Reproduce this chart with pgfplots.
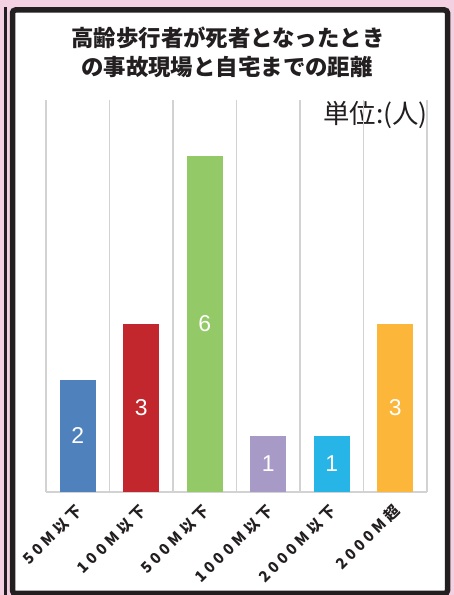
\documentclass[border=0pt]{standalone}
\usepackage{pgfplots}
\pgfplotsset{compat=1.18}
\usepackage{fontspec}
\setmainfont{Liberation Sans}
\newfontfamily\jp{Noto Sans CJK JP}
\newfontfamily\jpt[LetterSpace=25]{Noto Sans CJK JP}
\definecolor{bg}{HTML}{F4D1E2}
\definecolor{framec}{HTML}{231F20}
\definecolor{titlec}{HTML}{231F20}
\definecolor{gridc}{HTML}{D2D2D2}
\definecolor{c1}{HTML}{4F81BD}
\definecolor{c2}{HTML}{C1272D}
\definecolor{c3}{HTML}{93C966}
\definecolor{c4}{HTML}{A89AC6}
\definecolor{c5}{HTML}{27B4E7}
\definecolor{c6}{HTML}{FCB73B}
\begin{document}
\begin{tikzpicture}[x=1bp,y=1bp]
\path[use as bounding box] (0,0) rectangle (454,595);
\fill[bg] (0,0) rectangle (454,595);
\fill[framec] (3.5,0) rectangle (7,588);
\draw[framec, line width=5.5bp, fill=white, rounded corners=3bp] (12.5,1.5) rectangle (447.5,585);
\node[font=\jp\bfseries\fontsize{22.5}{29.5}\selectfont, text=titlec, anchor=center] at (228,557) {高齢歩行者が死者となったとき};
\node[font=\jp\bfseries\fontsize{22.5}{29.5}\selectfont, text=titlec, anchor=center] at (227,527.5) {の事故現場と自宅までの距離};
\node[font=\jp\fontsize{26.5}{28}\selectfont, text=titlec, anchor=east, inner sep=0pt] at (428,480) {単位:(人)};
\begin{axis}[at={(427bp,495bp)}, anchor=north east, scale only axis, width=381bp, height=392bp,
 /pgf/number format/assume math mode=true,
 xmin=-0.5, xmax=5.5, ymin=0, ymax=7,
 axis x line*=bottom, axis y line=none,
 x axis line style={-, draw=gridc, line width=1.2bp},
 xtick={0,...,5},
 xticklabels={50M以下, 100M以下, 500M以下, 1000M以下, 2000M以下, 2000M超},
 major tick length=0pt, minor tick length=0pt,
 minor xtick={-0.5,0.5,...,5.5}, xminorgrids=true,
 minor x grid style={draw=gridc, line width=1.2bp},
 xticklabel style={font=\jpt\bfseries\fontsize{15}{16}\selectfont, rotate=45, anchor=north east, inner sep=0pt, text=titlec, xshift=-4bp},
 xticklabel shift=8bp,
 ybar, bar width=36bp, bar shift=0pt,
 ytick=\empty,
 clip=false,
 nodes near coords, point meta=y,
 visualization depends on=y \as \rawy,
 every node near coord/.append style={font=\fontsize{23}{23}\selectfont, text=white, anchor=center, shift={(axis direction cs:0,-\rawy/2)}},
]
\addplot[fill=c1, draw=none] coordinates {(0,2)};
\addplot[fill=c2, draw=none] coordinates {(1,3)};
\addplot[fill=c3, draw=none] coordinates {(2,6)};
\addplot[fill=c4, draw=none] coordinates {(3,1)};
\addplot[fill=c5, draw=none] coordinates {(4,1)};
\addplot[fill=c6, draw=none] coordinates {(5,3)};
\end{axis}
\end{tikzpicture}
\end{document}
